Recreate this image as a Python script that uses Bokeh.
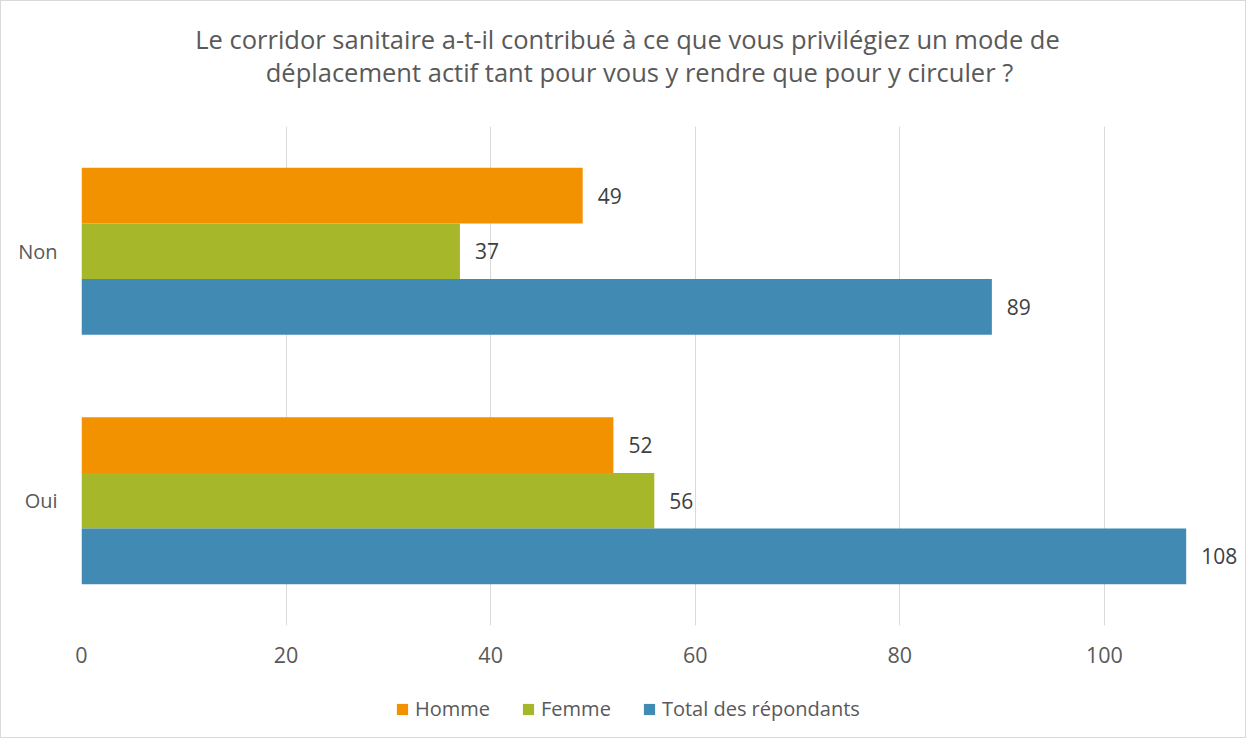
from bokeh.plotting import figure
from bokeh.models import ColumnDataSource, Legend, LegendItem, FactorRange, Range1d, Label
from bokeh.layouts import column
from bokeh.transform import dodge
from bokeh.embed import file_html
from bokeh.resources import INLINE
from bokeh.core.properties import value

categories = ["Oui", "Non"]
homme = [52, 49]
femme = [56, 37]
total = [108, 89]
series_names = ["Homme", "Femme", "Total des répondants"]
x_ticks = [0, 20, 40, 60, 80, 100]
title_lines = ["Le corridor sanitaire a-t-il contribué à ce que vous privilégiez un mode de",
               "déplacement actif tant pour vous y rendre que pour y circuler ?"]

colors = ["#F39200", "#A6B72A", "#418AB3"]
FONT = "Open Sans"

W = 1244
H_TITLE = 125
H_MAIN = 551
H_LEG = 60
BL, BR = 80, 1


def strip(h):
    f = figure(width=W, height=h, output_backend="svg", toolbar_location=None,
               x_range=Range1d(BL, W - BR), y_range=Range1d(h, 0),
               min_border_left=BL, min_border_right=BR, min_border_top=0, min_border_bottom=0)
    f.axis.visible = False
    f.grid.visible = False
    f.outline_line_color = None
    f.border_fill_color = "white"
    f.background_fill_color = "white"
    return f


# title strip
top = strip(H_TITLE)
for line, y, xc in zip(title_lines, [37, 70], [626, 638]):
    top.add_layout(Label(x=xc, y=y, text=line, text_align="center", text_baseline="middle",
                         text_font=FONT, text_font_size="25.5px", text_color="#595959"))

# main chart
src = ColumnDataSource(dict(cat=categories, homme=homme, femme=femme, total=total,
                            lh=[str(v) for v in homme], lf=[str(v) for v in femme],
                            lt=[str(v) for v in total]))
p = figure(width=W, height=H_MAIN, y_range=FactorRange(*categories, range_padding=0),
           x_range=Range1d(0, 113.7), output_backend="svg", toolbar_location=None,
           min_border_left=BL, min_border_right=BR, min_border_top=0,
           min_border_bottom=52)
p.outline_line_color = None
p.background_fill_color = "white"
p.border_fill_color = "white"

bh = 0.223
r1 = p.hbar(y=dodge("cat", bh, range=p.y_range), right="homme", left=0, height=bh,
            source=src, color=colors[0], line_color=None)
r2 = p.hbar(y=dodge("cat", 0, range=p.y_range), right="femme", left=0, height=bh,
            source=src, color=colors[1], line_color=None)
r3 = p.hbar(y=dodge("cat", -bh, range=p.y_range), right="total", left=0, height=bh,
            source=src, color=colors[2], line_color=None)

for col, lab, off in [("homme", "lh", bh), ("femme", "lf", 0), ("total", "lt", -bh)]:
    p.text(x=col, y=dodge("cat", off, range=p.y_range), text=lab, source=src,
           x_offset=15, text_align="left", text_baseline="middle",
           text_font=value(FONT), text_font_size="21px", text_color="#404040")

p.xaxis.ticker = x_ticks
p.xgrid.ticker = x_ticks
p.xgrid.grid_line_color = "#D9D9D9"
p.xgrid.grid_line_width = 1
p.ygrid.grid_line_color = None
for ax in (p.xaxis, p.yaxis):
    ax.axis_line_color = None
    ax.major_tick_line_color = None
    ax.minor_tick_line_color = None
    ax.major_label_text_font = FONT
    ax.major_label_text_color = "#595959"
p.xaxis.major_label_text_font_size = "21.5px"
p.yaxis.major_label_text_font_size = "20px"
p.xaxis.major_label_standoff = 15
p.yaxis.major_label_standoff = 18

# legend strip below the chart
leg = strip(H_LEG)
dummy = ColumnDataSource(dict(x=[-1000], y=[-1000]))
sw = [leg.rect(x="x", y="y", width=1, height=1, source=dummy, color=c, line_color=None)
      for c in colors]
legend = Legend(items=[LegendItem(label=n, renderers=[r]) for n, r in zip(series_names, sw)],
                orientation="horizontal", location=(314, 15), padding=0, margin=0,
                spacing=31, glyph_width=14, glyph_height=14, label_standoff=6,
                label_text_font=FONT, label_text_font_size="20px", label_text_color="#595959",
                border_line_color=None, background_fill_alpha=0)
leg.add_layout(legend)

layout = column(top, p, leg, spacing=0)
layout.styles = {"border": "1px solid #D9D9D9"}

open("out.html", "w").write(file_html(layout, INLINE))
